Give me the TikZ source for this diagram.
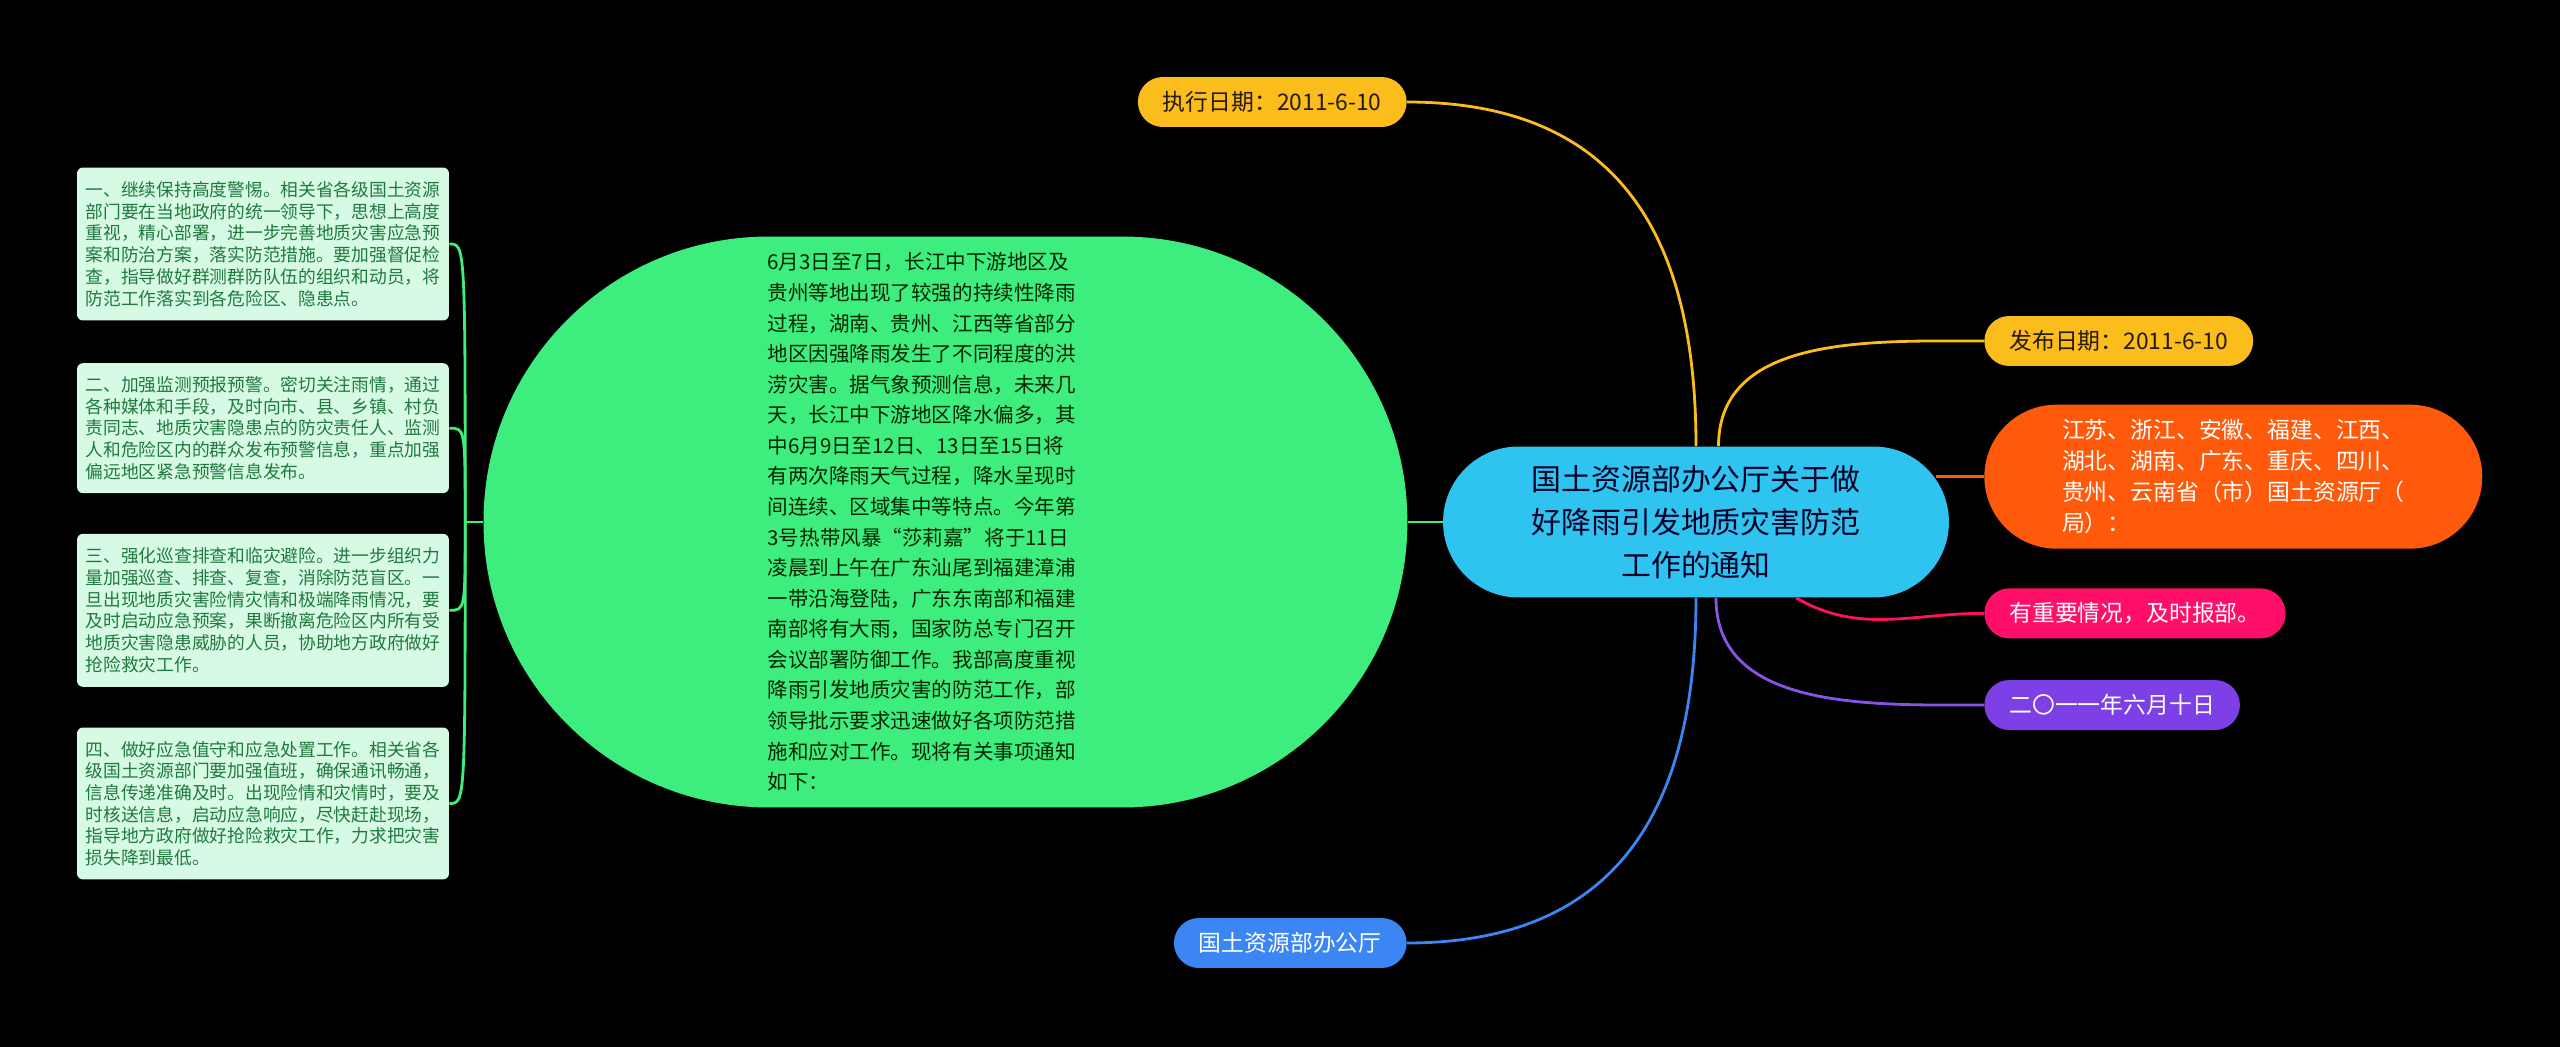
\documentclass[tikz,border=0pt]{standalone}
\usepackage{fontspec}
\newfontfamily\cjk{Noto Sans CJK SC}
\usetikzlibrary{positioning}

\definecolor{hubblue}{HTML}{2FC3F0}
\definecolor{storygreen}{HTML}{3DEE7E}
\definecolor{pointfill}{HTML}{D6FAE4}
\definecolor{pointtext}{HTML}{1F7A3E}
\definecolor{dateyellow}{HTML}{FBBD1C}
\definecolor{provorange}{HTML}{FF5A0B}
\definecolor{imppink}{HTML}{FF0F68}
\definecolor{datepurple}{HTML}{7C40E6}
\definecolor{officeblue}{HTML}{3B86F2}
\newcommand\fsz[2]{\fontsize{#1}{#2}\selectfont}

\begin{document}
\begin{tikzpicture}[
        x=0.02cm, y=-0.02cm,
        hub/.style={fill=hubblue, rounded corners=1.51cm, align=center,
            minimum width=10.12cm, minimum height=3.02cm, text=black!85!blue,
            font=\cjk\fsz{17pt}{24.4pt}},
        story/.style={fill=storygreen, rounded corners=5.7cm, align=left,
            minimum width=18.48cm, minimum height=11.42cm, text width=7.12cm,
            text=black!85!green, font=\cjk\fsz{11.7pt}{17.4pt}},
        pointbox/.style={fill=pointfill, rounded corners=0.12cm, align=left,
            minimum width=7.44cm, inner xsep=0.16cm, inner ysep=0.2cm,
            text=pointtext, font=\cjk\fsz{10.1pt}{12.35pt}},
        pill/.style={rounded corners=0.5cm, minimum height=1cm, inner xsep=0.5cm,
            text=white, font=\cjk\fsz{13pt}{17.6pt}},
        link/.style={line width=1.6pt},
    ]
        \useasboundingbox (0,0) rectangle (2560,1047);
        \fill[black] (0,0) rectangle (2560,1047);

        % Centre topic
        \node[hub] (center) at (1696,522) {国土资源部办公厅关于做\\好降雨引发地质灾害防范\\工作的通知};

        % Left: background text and the four points
        \node[story, left=0.7cm of center] (story) {6月3日至7日，长江中下游地区及\\
            贵州等地出现了较强的持续性降雨\\
            过程，湖南、贵州、江西等省部分\\
            地区因强降雨发生了不同程度的洪\\
            涝灾害。据气象预测信息，未来几\\
            天，长江中下游地区降水偏多，其\\
            中6月9日至12日、13日至15日将\\
            有两次降雨天气过程，降水呈现时\\
            间连续、区域集中等特点。今年第\\
            3号热带风暴“莎莉嘉”将于11日\\
            凌晨到上午在广东汕尾到福建漳浦\\
            一带沿海登陆，广东东南部和福建\\
            南部将有大雨，国家防总专门召开\\
            会议部署防御工作。我部高度重视\\
            降雨引发地质灾害的防范工作，部\\
            领导批示要求迅速做好各项防范措\\
            施和应对工作。现将有关事项通知\\
            如下：};

        \node[pointbox, minimum height=3.06cm] (p1) at (263,244) {一、继续保持高度警惕。相关省各级国土资源\\
            部门要在当地政府的统一领导下，思想上高度\\
            重视，精心部署，进一步完善地质灾害应急预\\
            案和防治方案，落实防范措施。要加强督促检\\
            查，指导做好群测群防队伍的组织和动员，将\\
            防范工作落实到各危险区、隐患点。};
        \node[pointbox, minimum height=2.6cm, below=0.84cm of p1] (p2) {二、加强监测预报预警。密切关注雨情，通过\\
            各种媒体和手段，及时向市、县、乡镇、村负\\
            责同志、地质灾害隐患点的防灾责任人、监测\\
            人和危险区内的群众发布预警信息，重点加强\\
            偏远地区紧急预警信息发布。};
        \node[pointbox, minimum height=3.06cm, below=0.8cm of p2] (p3) {三、强化巡查排查和临灾避险。进一步组织力\\
            量加强巡查、排查、复查，消除防范盲区。一\\
            旦出现地质灾害险情灾情和极端降雨情况，要\\
            及时启动应急预案，果断撤离危险区内所有受\\
            地质灾害隐患威胁的人员，协助地方政府做好\\
            抢险救灾工作。};
        \node[pointbox, minimum height=3.04cm, below=0.8cm of p3] (p4) {四、做好应急值守和应急处置工作。相关省各\\
            级国土资源部门要加强值班，确保通讯畅通，\\
            信息传递准确及时。出现险情和灾情时，要及\\
            时核送信息，启动应急响应，尽快赶赴现场，\\
            指导地方政府做好抢险救灾工作，力求把灾害\\
            损失降到最低。};

        \node[pill, fill=dateyellow, text=black!80!brown, anchor=east] (exec) at (1407,102) {执行日期：2011-6-10};
        \node[pill, fill=officeblue, anchor=east] (office) at (1407,943) {国土资源部办公厅};

        % Right column
        \node[pill, fill=dateyellow, text=black!80!brown, anchor=west] (pub) at (1984,341) {发布日期：2011-6-10};
        \node[pill, fill=provorange, align=left, rounded corners=1.44cm,
            minimum width=9.96cm, minimum height=2.88cm,
            below=0.76cm of pub.south west, anchor=north west] (prov)
            {江苏、浙江、安徽、福建、江西、\\湖北、湖南、广东、重庆、四川、\\贵州、云南省（市）国土资源厅（\\局）：};
        \node[pill, fill=imppink, below=0.78cm of prov.south west, anchor=north west] (imp) {有重要情况，及时报部。};
        \node[pill, fill=datepurple, below=0.82cm of imp.south west, anchor=north west] (date) {二〇一一年六月十日};

        % Connectors
        \draw[link, dateyellow] (center.north) to[out=90, in=0, looseness=1.2] (exec.east);
        \draw[link, dateyellow] ([xshift=0.45cm]center.north) to[out=90, in=180] (pub.west);
        \draw[link, provorange] ([xshift=-0.26cm]prov.west -| center.east) -- (prov.west);
        \draw[link, imppink] ([xshift=2cm]center.south) to[out=-30, in=180] (imp.west);
        \draw[link, datepurple!90!white] ([xshift=0.4cm]center.south) to[out=-90, in=180] (date.west);
        \draw[link, officeblue] (center.south) to[out=-90, in=0, looseness=1.2] (office.east);
        \draw[link, storygreen] (story.east) -- (center.west);

        \coordinate (fork) at ([xshift=-0.36cm]story.west);
        \draw[link, storygreen] (story.west) -- (fork);
        \foreach \p in {p1,p2,p3,p4}
            \draw[link, storygreen] (fork) .. controls (fork |- \p.east) .. (\p.east);
    \end{tikzpicture}
\end{document}
